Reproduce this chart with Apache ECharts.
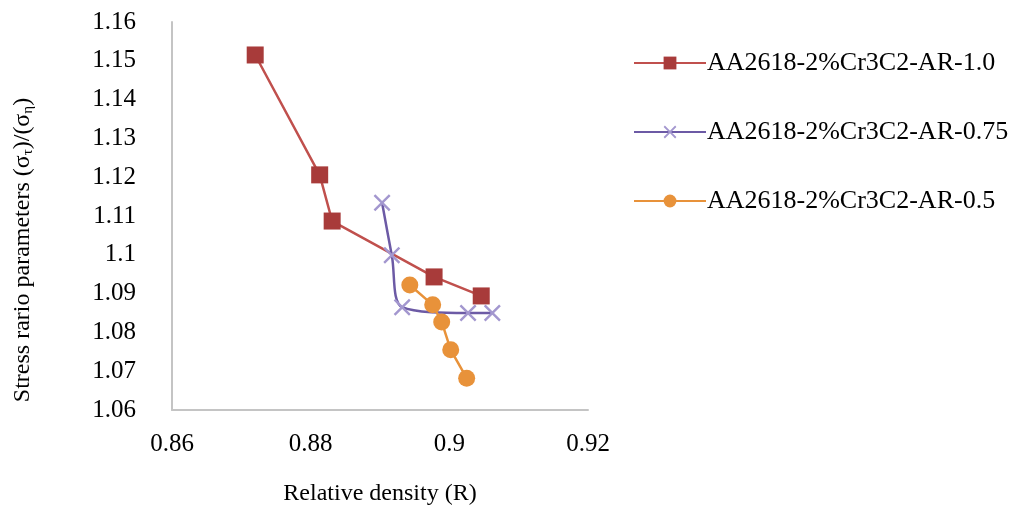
<!DOCTYPE html>
<html>
<head>
<meta charset="utf-8">
<script src="https://cdn.jsdelivr.net/npm/echarts@6/dist/echarts.min.js"></script>
<style>
  html, body { margin: 0; padding: 0; background: #fff; }
  #chart { width: 1014px; height: 514px; }
</style>
</head>
<body>
<div id="chart"></div>
<script>
// relative density (x) / stress ratio (y) per series
const seriesNames = ['AA2618-2%Cr3C2-AR-1.0', 'AA2618-2%Cr3C2-AR-0.75', 'AA2618-2%Cr3C2-AR-0.5'];
const ar10X = [0.8720, 0.8813, 0.8831, 0.8978, 0.9046];
const ar10Y = [1.1515, 1.1206, 1.1087, 1.0943, 1.0894];
const ar075X = [0.8903, 0.8917, 0.8932, 0.9027, 0.9062];
const ar075Y = [1.1134, 1.0999, 1.0865, 1.0850, 1.0850];
const ar05X = [0.8943, 0.8976, 0.8989, 0.9002, 0.9025];
const ar05Y = [1.0922, 1.0871, 1.0827, 1.0755, 1.0682];

const pairs = (xs, ys) => xs.map((x, i) => [x, ys[i]]);
const font = 'Liberation Serif';
const crossPath = 'path://M0,1L1,0L5,4L9,0L10,1L6,5L10,9L9,10L5,6L1,10L0,9L4,5Z';

const chart = echarts.init(document.getElementById('chart'));
chart.setOption({
  animation: false,
  textStyle: { fontFamily: font },
  grid: { left: 172, right: 426, top: 22, bottom: 104 },
  legend: {
    orient: 'vertical',
    left: 628,
    top: 45,
    itemGap: 43,
    itemWidth: 72,
    itemHeight: 16,
    textStyle: { fontFamily: font, fontSize: 26, color: '#000', padding: [0, 0, 0, -4] },
    data: seriesNames
  },
  xAxis: {
    type: 'value',
    min: 0.86,
    max: 0.92,
    interval: 0.02,
    name: 'Relative density (R)',
    nameLocation: 'middle',
    nameGap: 72,
    nameTextStyle: { fontFamily: font, fontSize: 24, color: '#000' },
    axisLine: { show: true, lineStyle: { color: '#c4c4c4', width: 2 } },
    axisTick: { show: false },
    splitLine: { show: false },
    axisLabel: {
      margin: 22, fontSize: 25, color: '#000', fontFamily: font,
      formatter: v => String(+v.toFixed(2))
    }
  },
  yAxis: {
    type: 'value',
    min: 1.06,
    max: 1.16,
    interval: 0.01,
    name: 'Stress rario parameters (σ{sub|τ})/(σ{sub|η})',
    nameLocation: 'middle',
    nameGap: 136,
    nameTextStyle: {
      fontFamily: font, fontSize: 24, color: '#000',
      padding: [0, 68, 0, 0],
      rich: { sub: { fontFamily: font, fontSize: 15, color: '#000', verticalAlign: 'bottom', padding: [12, 0, 0, 0] } }
    },
    axisLine: { show: true, lineStyle: { color: '#c4c4c4', width: 2 } },
    axisTick: { show: false },
    splitLine: { show: false },
    axisLabel: {
      margin: 36, fontSize: 25, color: '#000', fontFamily: font,
      formatter: v => String(+v.toFixed(2))
    }
  },
  series: [
    {
      name: seriesNames[0],
      type: 'line',
      data: pairs(ar10X, ar10Y),
      symbol: 'rect',
      symbolSize: 17,
      lineStyle: { color: '#c0504d', width: 2.5 },
      itemStyle: { color: '#a83b3a' }
    },
    {
      name: seriesNames[1],
      type: 'line',
      smooth: 0.35,
      data: pairs(ar075X, ar075Y),
      symbol: crossPath,
      symbolSize: 17,
      lineStyle: { color: '#6c5aa5', width: 2.5 },
      itemStyle: { color: '#a397cf' }
    },
    {
      name: seriesNames[2],
      type: 'line',
      data: pairs(ar05X, ar05Y),
      symbol: 'circle',
      symbolSize: 17,
      lineStyle: { color: '#e8923a', width: 2.5 },
      itemStyle: { color: '#e8923a' }
    }
  ]
});
</script>
</body>
</html>
